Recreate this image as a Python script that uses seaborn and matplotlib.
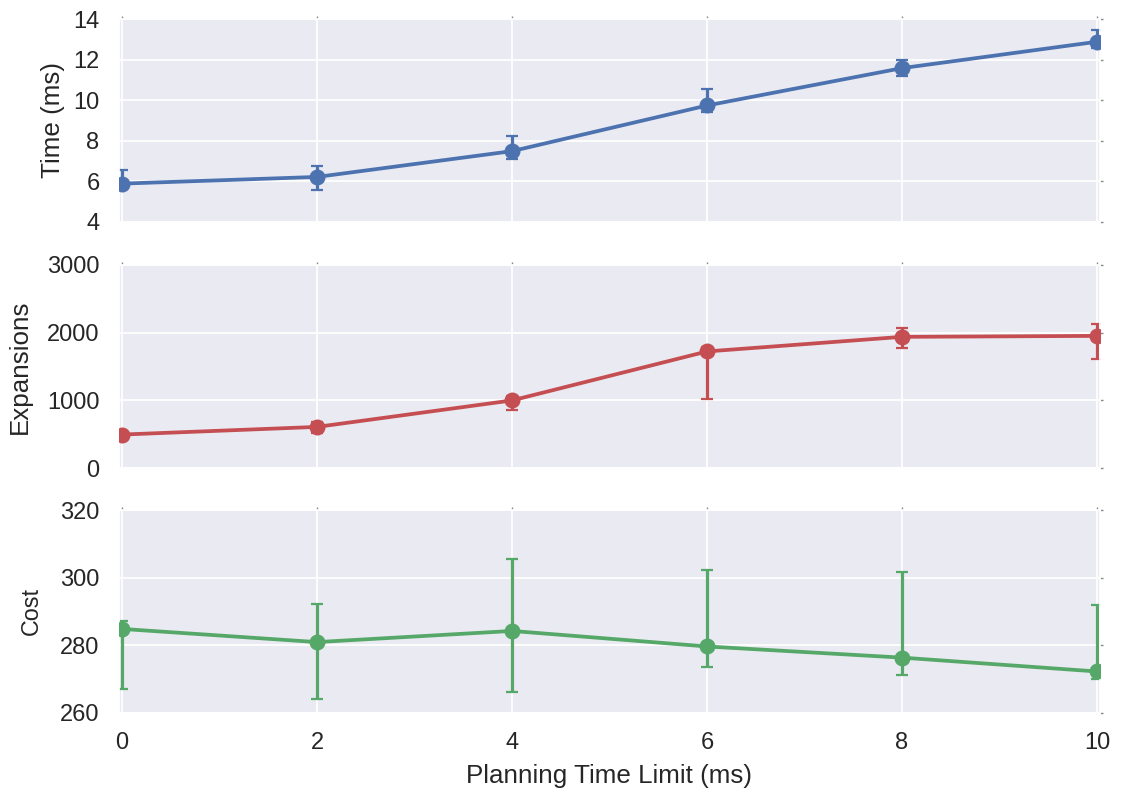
import matplotlib
matplotlib.use("Agg")
import matplotlib.pyplot as plt
import seaborn as sns
import numpy as np

# Planning time limit (ms) on the shared x axis
limits = [0, 2, 4, 6, 8, 10]

# Search time per step (ms), with lower / upper bounds of the interval
time_ms = [5.89, 6.22, 7.49, 9.74, 11.58, 12.88]
time_lo = [5.75, 5.56, 7.08, 9.41, 11.17, 12.55]
time_hi = [6.55, 6.76, 8.24, 10.55, 11.98, 13.46]

# Node expansions
expansions = [497, 610, 1000, 1722, 1937, 1951]
exp_lo = [450, 524, 858, 1015, 1770, 1613]
exp_hi = [540, 680, 1060, 1780, 2074, 2132]

# Solution cost
cost = [284.8, 280.9, 284.2, 279.6, 276.3, 272.2]
cost_lo = [267.0, 264.1, 266.1, 273.4, 271.1, 270.0]
cost_hi = [287.2, 292.2, 305.5, 302.2, 301.6, 291.8]

y_labels = ["Time (ms)", "Expansions", "Cost"]
y_ticks = [[4, 6, 8, 10, 12, 14], [0, 1000, 2000, 3000], [260, 280, 300, 320]]
x_ticks = [0, 2, 4, 6, 8, 10]
x_label = "Planning Time Limit (ms)"

sns.set_theme(style="darkgrid", rc={"grid.linewidth": 1.3})
plt.rcParams["font.family"] = ["Liberation Sans", "DejaVu Sans"]

colors = ["#4C72B0", "#C44E52", "#55A868"]
series = [(time_ms, time_lo, time_hi), (expansions, exp_lo, exp_hi), (cost, cost_lo, cost_hi)]

fig, axes = plt.subplots(3, 1, sharex=True, figsize=(11.26, 7.93), dpi=100)

W, H = 1126, 793
left, right = 119, 1100
tops = [19, 264.7, 510]
bottoms = [222, 468.3, 712.7]
label_x = [-0.0551, -0.0887, -0.0775]
label_sizes = [18.7, 18.7, 16.8]

for i, ax in enumerate(axes):
    ax.set_position([left / W, 1 - bottoms[i] / H, (right - left) / W,
                     (bottoms[i] - tops[i]) / H])
    vals, lo, hi = series[i]
    vals_a = np.array(vals)
    yerr = [vals_a - np.array(lo), np.array(hi) - vals_a]
    ax.errorbar(limits, vals, yerr=yerr, fmt="none", ecolor=colors[i],
                elinewidth=2.3, capsize=4, capthick=1.6, zorder=2)
    sns.lineplot(x=limits, y=vals, color=colors[i], marker="o", markersize=11.5,
                 markeredgewidth=0, linewidth=2.7, ax=ax, zorder=3)
    ax.set_yticks(y_ticks[i])
    ax.set_ylim(y_ticks[i][0], y_ticks[i][-1])
    ax.set_ylabel(y_labels[i], fontsize=label_sizes[i], color="#262626")
    ax.yaxis.set_label_coords(label_x[i], 0.5)
    ax.tick_params(axis="both", which="major", direction="out", length=2,
                   width=1, color="#888888", top=True, right=True, pad=12,
                   labelsize=17, labelcolor="#262626")

axes[-1].set_xticks(x_ticks)
axes[-1].set_xlim(-0.03, 10.03)
axes[-1].set_xlabel(x_label, fontsize=18.7, color="#262626", labelpad=7)
for ax in axes[:-1]:
    ax.tick_params(labelbottom=False)

fig.savefig("out.png", dpi=100)
